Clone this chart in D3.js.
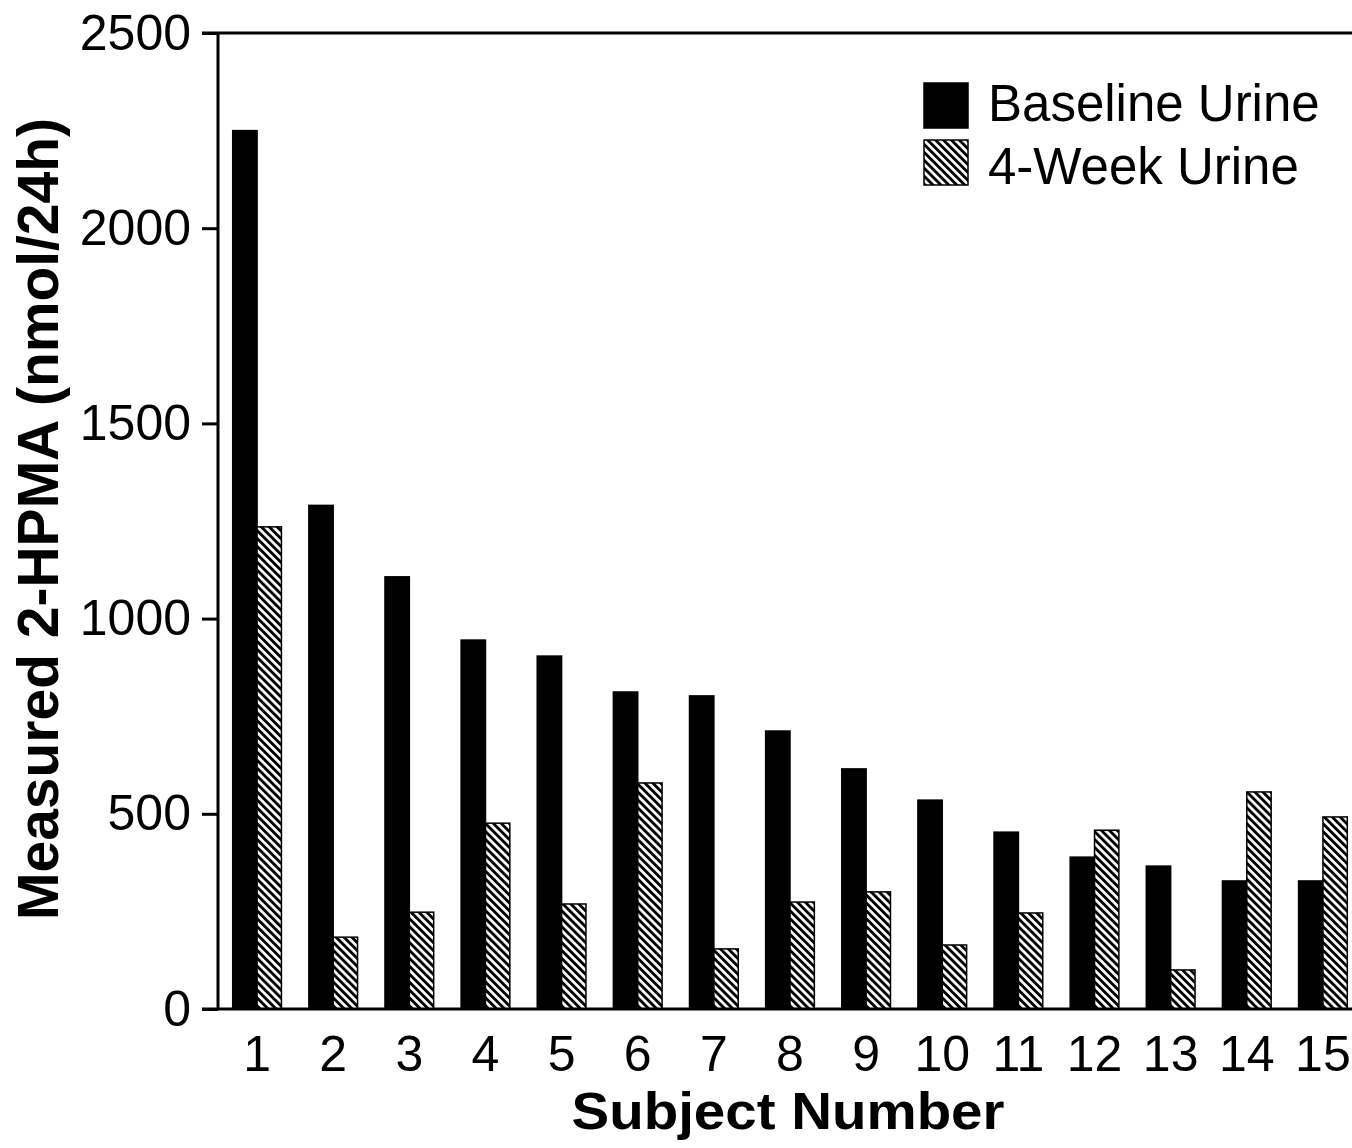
<!DOCTYPE html>
<html>
<head>
<meta charset="utf-8">
<script src="https://d3js.org/d3.v7.min.js"></script>
<style>
  body { margin: 0; background: #fff; }
  svg { display: block; font-family: "Liberation Sans", Arial, sans-serif; }
</style>
</head>
<body>
<div id="bar-graph"></div>
<script>
  //chart values
  const subjects = ['1', '2', '3', '4', '5', '6', '7', '8', '9', '10', '11', '12', '13', '14', '15'];
  const baseline = [2250, 1290, 1107, 945, 904, 812, 802, 712, 615, 535, 453, 389, 366, 328, 328];
  const fourWeek = [1235, 184, 248, 476, 269, 579, 154, 274, 300, 164, 246, 458, 100, 556, 492];
  const yTicks = [0, 500, 1000, 1500, 2000, 2500];
  const seriesNames = ['Baseline Urine', '4-Week Urine'];

  const W = 1352, H = 1148;
  let margin = { top: 33, right: -8, bottom: 139, left: 218 };
  let width = W - margin.left - margin.right;
  let height = H - margin.top - margin.bottom;

  let svg = d3.select('#bar-graph')
    .append('svg')
    .attr('width', W)
    .attr('height', H);

  //diagonal hatch for the 4-week bars
  let defs = svg.append('defs');
  defs.append('pattern')
    .attr('id', 'hatch')
    .attr('patternUnits', 'userSpaceOnUse')
    .attr('width', 5.6)
    .attr('height', 5.6)
    .attr('patternTransform', 'rotate(-45)')
    .call(p => {
      p.append('rect').attr('width', 5.6).attr('height', 5.6).attr('fill', '#fff');
      p.append('rect').attr('width', 2.9).attr('height', 5.6).attr('fill', '#000');
    });

  let g = svg.append('g')
    .attr('transform', 'translate(' + margin.left + ', ' + margin.top + ')');

  let yScale = d3.scaleLinear()
    .domain([0, 2500])
    .range([height, 0]);

  let xScale = d3.scaleBand()
    .domain(subjects)
    .range([1, width + 1])
    .paddingInner(0.36)
    .paddingOuter(0.18);

  let xInner = d3.scaleBand()
    .domain(seriesNames)
    .range([0, xScale.bandwidth()]);

  let data = subjects.map((s, i) => ({ subject: s, values: [baseline[i], fourWeek[i]] }));

  //bars
  let group = g.selectAll('g.column-container')
    .data(data)
    .enter()
    .append('g')
    .attr('class', 'column-container')
    .attr('transform', d => 'translate(' + xScale(d.subject) + ',0)');

  group.selectAll('rect')
    .data(d => d.values.map((v, k) => ({ key: seriesNames[k], k, v })))
    .enter()
    .append('rect')
    .attr('x', d => xInner(d.key))
    .attr('y', d => yScale(d.v))
    .attr('width', xInner.bandwidth())
    .attr('height', d => height - yScale(d.v))
    .attr('fill', d => d.k === 0 ? '#000' : 'url(#hatch)')
    .attr('stroke', '#000')
    .attr('stroke-width', 1.5);

  //y axis with outward ticks
  let yAxis = g.append('g')
    .call(d3.axisLeft(yScale).tickValues(yTicks).tickSize(16).tickPadding(11).tickFormat(d3.format('d')));
  yAxis.select('.domain').remove();
  yAxis.selectAll('line').attr('stroke', '#000').attr('stroke-width', 3);
  yAxis.selectAll('text')
    .style('font-size', '50px')
    .attr('fill', '#000');

  //axis lines and the top frame line
  g.append('line')
    .attr('x1', 0).attr('x2', 0)
    .attr('y1', yScale(2500)).attr('y2', height)
    .attr('stroke', '#000').attr('stroke-width', 3);
  g.append('line')
    .attr('x1', -16).attr('x2', width + 20)
    .attr('y1', height).attr('y2', height)
    .attr('stroke', '#000').attr('stroke-width', 3);
  g.append('line')
    .attr('x1', -16).attr('x2', width + 20)
    .attr('y1', yScale(2500)).attr('y2', yScale(2500))
    .attr('stroke', '#000').attr('stroke-width', 3);

  //x labels, no tick marks
  g.selectAll('text.xlab')
    .data(subjects)
    .enter()
    .append('text')
    .attr('class', 'xlab')
    .attr('x', d => xScale(d) + xScale.bandwidth() / 2)
    .attr('y', height + 62)
    .attr('text-anchor', 'middle')
    .style('font-size', '50px')
    .text(d => d);

  //axis titles
  svg.append('text')
    .attr('x', 788)
    .attr('y', 1129)
    .attr('text-anchor', 'middle')
    .attr('textLength', 433)
    .attr('lengthAdjust', 'spacingAndGlyphs')
    .style('font-size', '52px')
    .style('font-weight', 'bold')
    .text('Subject Number');

  svg.append('text')
    .attr('transform', 'translate(58, 519) rotate(-90)')
    .attr('text-anchor', 'middle')
    .attr('textLength', 802)
    .attr('lengthAdjust', 'spacingAndGlyphs')
    .style('font-size', '57px')
    .style('font-weight', 'bold')
    .text('Measured 2-HPMA (nmol/24h)');

  //legend
  let legend = svg.append('g').attr('transform', 'translate(924, 83)');
  legend.selectAll('rect')
    .data(seriesNames)
    .enter()
    .append('rect')
    .attr('x', 0)
    .attr('y', (d, i) => i * 57)
    .attr('width', 44)
    .attr('height', 45)
    .attr('fill', (d, i) => i === 0 ? '#000' : 'url(#hatch)')
    .attr('stroke', '#000')
    .attr('stroke-width', 1.5);
  legend.selectAll('text')
    .data(seriesNames)
    .enter()
    .append('text')
    .attr('x', 64)
    .attr('y', (d, i) => 38 + i * 63)
    .style('font-size', '51px')
    .text(d => d);
</script>
</body>
</html>
